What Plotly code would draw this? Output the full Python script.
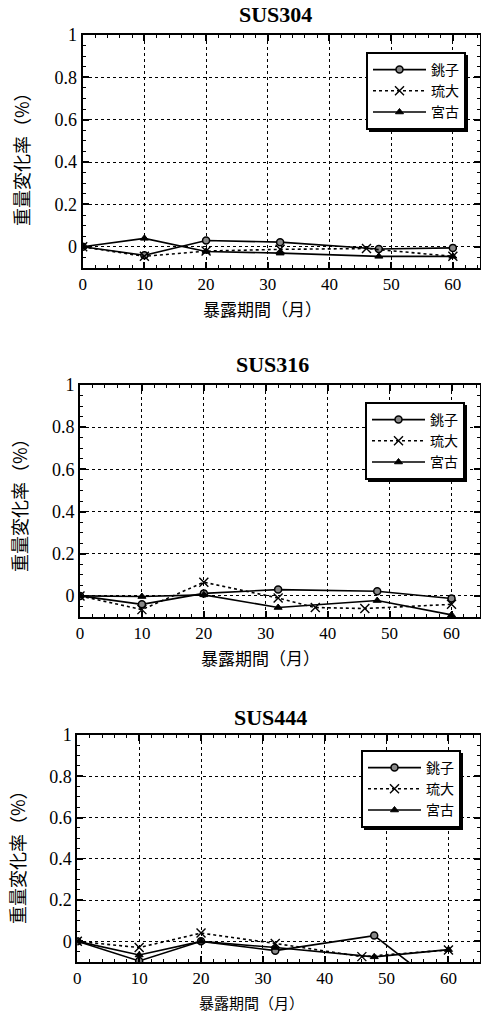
import plotly.graph_objects as go

W, H = 481, 1014

# ---------------- data ----------------
titles = ["SUS304", "SUS316", "SUS444"]
names = ["銚子", "琉大", "宮古"]

# SUS304
x304_choshi = [0, 10, 20, 32, 48, 60]
y304_choshi = [0.0, -0.04, 0.03, 0.022, -0.01, -0.005]
x304_ryudai = [0, 10, 20, 32, 46, 60]
y304_ryudai = [0.0, -0.045, -0.02, -0.012, -0.008, -0.045]
x304_miyako = [0, 10, 20, 32, 48, 60]
y304_miyako = [0.0, 0.04, -0.022, -0.03, -0.045, -0.045]

# SUS316
x316_choshi = [0, 10, 20, 32, 48, 60]
y316_choshi = [0.0, -0.04, 0.012, 0.03, 0.022, -0.012]
x316_ryudai = [0, 10, 20, 32, 38, 46, 60]
y316_ryudai = [0.0, -0.065, 0.065, -0.01, -0.055, -0.06, -0.04]
x316_miyako = [0, 10, 20, 32, 48, 60]
y316_miyako = [0.0, -0.003, 0.005, -0.055, -0.022, -0.09]

# SUS444
x444_choshi = [0, 10, 20, 32, 48, 60]
y444_choshi = [0.0, -0.095, 0.0, -0.045, 0.028, -0.25]
x444_ryudai = [0, 10, 20, 32, 46, 60]
y444_ryudai = [0.0, -0.03, 0.04, -0.01, -0.074, -0.042]
x444_miyako = [0, 10, 20, 32, 48, 60]
y444_miyako = [0.0, -0.066, 0.0, -0.03, -0.075, -0.04]

x_ticks = [0, 10, 20, 30, 40, 50, 60]
y_ticks = [0, 0.2, 0.4, 0.6, 0.8, 1]
y_tick_text = ["0", "0.2", "0.4", "0.6", "0.8", "1"]
x_title = "暴露期間（月）"
y_title = "重量変化率（%）"

panels = [
    [(x304_choshi, y304_choshi), (x304_ryudai, y304_ryudai), (x304_miyako, y304_miyako)],
    [(x316_choshi, y316_choshi), (x316_ryudai, y316_ryudai), (x316_miyako, y316_miyako)],
    [(x444_choshi, y444_choshi), (x444_ryudai, y444_ryudai), (x444_miyako, y444_miyako)],
]

# ---------------- layout geometry (pixels) ----------------
boxes = [(82.7, 35, 480, 268), (80, 385, 480, 617), (77.3, 735, 480, 962)]
x_max = [64.4, 64.6, 65.1]
title_y = [15, 365, 717]
title_x = [275, 272, 270]
xtitle_x = [262, 260, 251]
xtitle_y = [308, 657, 1002]
xtitle_size = [17, 17, 15]
ytitle_x = [21, 19, 17]
ytitle_y = [155, 501, 853]
legend_pos = [(366, 52), (365, 402), (361, 750)]
legend_size = (99, 77)

styles = [
    dict(line=dict(color="black", width=1.6, dash="solid"),
         marker=dict(symbol="circle", size=7, color="#888888", line=dict(color="black", width=1.5))),
    dict(line=dict(color="black", width=1.6, dash="dot"),
         marker=dict(symbol="x-thin-open", size=9, color="black", line=dict(color="black", width=1.4))),
    dict(line=dict(color="black", width=1.6, dash="solid"),
         marker=dict(symbol="triangle-up", size=7, color="black", line=dict(color="black", width=1))),
]

serif = "Liberation Serif, Times New Roman, serif"
cjk = "Noto Sans CJK JP"

fig = go.Figure()
annotations = []
shapes = []
layout = dict(
    width=W, height=H,
    margin=dict(l=0, r=0, t=0, b=0, autoexpand=False),
    paper_bgcolor="white", plot_bgcolor="white",
    showlegend=True,
)

def px(x):
    return x / W

def py(y):
    return 1 - y / H

for i in range(3):
    sfx = "" if i == 0 else str(i + 1)
    xa, ya = "x" + sfx, "y" + sfx
    lg = "legend" + sfx
    for j, (xs, ys) in enumerate(panels[i]):
        fig.add_trace(go.Scatter(
            x=xs, y=ys, name=names[j], mode="lines+markers",
            xaxis=xa, yaxis=ya, legend=lg, cliponaxis=True,
            **styles[j]))
    l, t, r, b = boxes[i]
    common = dict(
        showline=True, linecolor="black", linewidth=2, mirror="allticks",
        ticks="inside", ticklen=6, tickwidth=1.5, tickcolor="black",
        showgrid=True, gridcolor="black", gridwidth=1, griddash="dot",
        zeroline=False, automargin=False,
        minor=dict(ticks="inside", ticklen=3, tickwidth=1, tickcolor="black", showgrid=False),
    )
    layout["xaxis" + sfx] = dict(
        domain=[px(l), px(r)], range=[0, x_max[i]], anchor=ya,
        tickmode="array", tickvals=x_ticks, ticktext=[str(v) for v in x_ticks],
        tickfont=dict(family=serif, size=17, color="black"),
        **{**common, "minor": dict(common["minor"], dtick=2, tick0=0)},
    )
    layout["yaxis" + sfx] = dict(
        domain=[py(b), py(t)], range=[-0.1, 1.0], anchor=xa,
        tickmode="array", tickvals=y_ticks, ticktext=y_tick_text,
        tickfont=dict(family=serif, size=18, color="black"),
        **{**common, "minor": dict(common["minor"], dtick=0.05, tick0=0)},
    )
    lx, ly = legend_pos[i]
    layout[lg] = dict(
        x=px(lx), y=py(ly), xanchor="left", yanchor="top",
        xref="paper", yref="paper",
        bgcolor="white", bordercolor="black", borderwidth=2,
        font=dict(family=cjk, size=14, color="black"),
        itemwidth=53, tracegroupgap=0,
    )
    shapes.append(dict(type="rect", xref="paper", yref="paper", layer="above",
                       x0=px(lx + 3), x1=px(lx + legend_size[0] + 3),
                       y0=py(ly + legend_size[1] + 3), y1=py(ly + 3),
                       fillcolor="black", line=dict(width=0)))
    annotations.append(dict(text="<b>" + titles[i] + "</b>", x=px(title_x[i]), y=py(title_y[i]),
                            xref="paper", yref="paper", showarrow=False,
                            xanchor="center", yanchor="middle",
                            font=dict(family=serif, size=22, color="black")))
    annotations.append(dict(text=x_title, x=px(xtitle_x[i]), y=py(xtitle_y[i]),
                            xref="paper", yref="paper", showarrow=False,
                            xanchor="center", yanchor="middle",
                            font=dict(family=cjk, size=xtitle_size[i], color="black")))
    annotations.append(dict(text=y_title, x=px(ytitle_x[i]), y=py(ytitle_y[i]),
                            xref="paper", yref="paper", showarrow=False, textangle=-90,
                            xanchor="center", yanchor="middle",
                            font=dict(family=cjk, size=18, color="black")))

layout["annotations"] = annotations
layout["shapes"] = shapes
fig.update_layout(**layout)
fig.write_html(
    "out.html",
    config={"displayModeBar": False},
    post_script="document.body.style.margin='0';document.body.style.overflow='hidden';",
)
